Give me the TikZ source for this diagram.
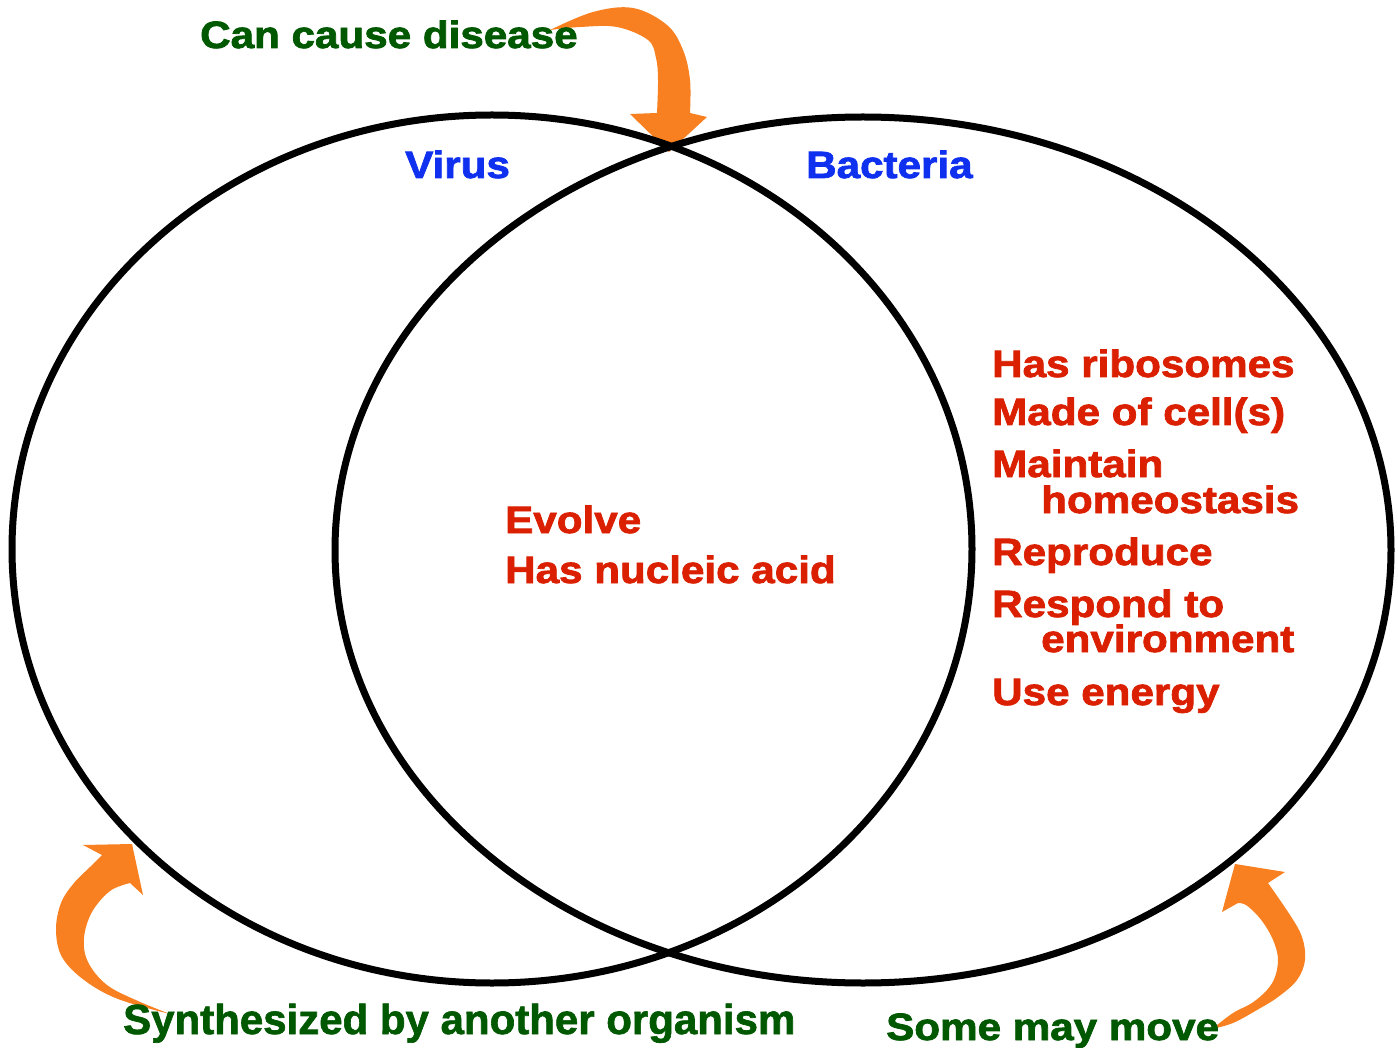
\documentclass[tikz,border=0pt]{standalone}
\usepackage{fontspec}
\newfontfamily\blackf{Liberation Sans}[BoldFeatures={FakeStretch=1.11,FakeBold=2}]
\newfontfamily\boldf{Liberation Sans}[BoldFeatures={FakeBold=1.5}]
\definecolor{vred}{RGB}{218,32,0}
\definecolor{vgreen}{RGB}{0,88,0}
\definecolor{vblue}{RGB}{16,48,240}
\definecolor{vorange}{RGB}{248,128,32}
\tikzset{
  lbl/.style={inner sep=0pt, anchor=base west, font=\blackf\bfseries\fontsize{38}{40}\selectfont},
  redt/.style={lbl, text=vred},
  greent/.style={lbl, text=vgreen},
  bluet/.style={lbl, text=vblue},
  ring/.style={draw=black, line width=7pt},
  fatarrow/.style={fill=vorange, draw=none}
}
\begin{document}
\begin{tikzpicture}[x=1pt,y=-1pt]
\useasboundingbox (0,0) rectangle (1398,1048);
% orange curved arrows
\fill[fatarrow] plot[smooth, tension=0.6] coordinates {(550,30) (593,12) (633,8) (667,25) (683,50) (690,80) (690,113)}
  -- (707,117) -- (669,152) -- (630,114) -- (657,113)
  -- plot[smooth, tension=0.6] coordinates {(657,113) (658,80) (656,58) (648,40) (617,27) (580,27) (550,30)} -- cycle;
\fill[fatarrow] (83,845) -- (132,844) -- (143,895) -- (130,883)
  -- plot[smooth, tension=0.6] coordinates {(130,883) (110,891) (92,912) (84,938) (88,962) (107,985) (138,1001) (170,1014)}
  -- plot[smooth, tension=0.6] coordinates {(170,1014) (118,999) (84,980) (62,957) (56,930) (61,903) (74,883) (90,867) (102,855)} -- cycle;
\fill[fatarrow] (1235,864) -- (1285,872) -- (1268,883)
  -- plot[smooth, tension=0.6] coordinates {(1268,883) (1290,915) (1302,937) (1305,960) (1297,980) (1278,997) (1257,1010) (1233,1023) (1212,1029)}
  -- plot[smooth, tension=0.6] coordinates {(1212,1029) (1233,1013) (1252,1003) (1267,990) (1275,977) (1278,960) (1275,945) (1268,930) (1258,916) (1246,905) (1238,903)}
  -- (1222,912) -- cycle;
% circles
\draw[ring] (492,549) ellipse [x radius=480pt, y radius=434pt];
\draw[ring] (863,550) ellipse [x radius=528pt, y radius=433pt];
% labels
\node[greent] (cause) at (200,48) {Can cause disease};
\node[bluet] (virus) at (405,178) {Virus};
\node[bluet] (bact) at (806,178) {Bacteria};
\node[redt] (evolve) at (505,533) {Evolve};
\node[redt] (nucleic) at (505,583) {Has nucleic acid};
\node[redt] (ribo) at (992,377) {Has ribosomes};
\node[redt] (cells) at (992,425) {Made of cell(s)};
\node[redt] (maint) at (992,477) {Maintain};
\node[redt] (homeo) at (1041,513) {homeostasis};
\node[redt] (repro) at (992,565) {Reproduce};
\node[redt] (resp) at (992,617) {Respond to};
\node[redt] (env) at (1041,652) {environment};
\node[redt] (energy) at (992,705) {Use energy};
\node[inner sep=0pt, anchor=base west, text=vgreen, font=\boldf\bfseries\fontsize{42}{44}\selectfont] (synth) at (123,1034) {Synthesized by another organism};
\node[greent] (move) at (886,1040) {Some may move};
\end{tikzpicture}
\end{document}
